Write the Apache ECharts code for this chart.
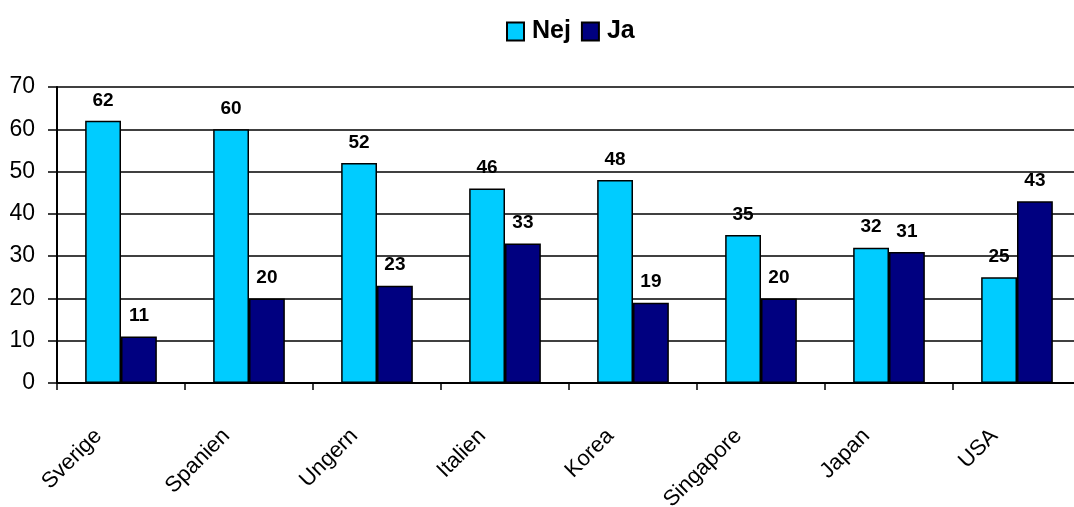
<!DOCTYPE html>
<html>
<head>
<meta charset="utf-8">
<script src="https://cdn.jsdelivr.net/npm/echarts@6/dist/echarts.min.js"></script>
<style>
  html, body { margin: 0; padding: 0; background: #fff; }
  #chart { width: 1074px; height: 507px; }
</style>
</head>
<body>
<div id="chart"></div>
<script>
// Survey answers per country
const countries = ['Sverige', 'Spanien', 'Ungern', 'Italien', 'Korea', 'Singapore', 'Japan', 'USA'];
const nejValues = [62, 60, 52, 46, 48, 35, 32, 25];
const jaValues = [11, 20, 23, 33, 19, 20, 31, 43];
const yTicks = { min: 0, max: 70, interval: 10 };

const font = '"Liberation Sans", Arial, sans-serif';
const barLabel = {
  show: true,
  position: 'top',
  distance: 11,
  color: '#000',
  fontFamily: font,
  fontWeight: 'bold',
  fontSize: 19
};

const chart = echarts.init(document.getElementById('chart'));
chart.setOption({
  animation: false,
  backgroundColor: '#fff',
  legend: {
    top: 14,
    left: 501,
    itemWidth: 17,
    itemHeight: 18,
    itemGap: 10,
    textStyle: { fontFamily: font, fontWeight: 'bold', fontSize: 25, color: '#000', padding: [2, 0, 0, 3] },
    data: [
      { name: 'Nej', icon: 'rect', itemStyle: { borderColor: '#000', borderWidth: 2 } },
      { name: 'Ja', icon: 'rect', itemStyle: { borderColor: '#000', borderWidth: 2 } }
    ]
  },
  grid: { left: 57, right: -7, top: 87, bottom: 124, containLabel: false, outerBoundsMode: 'none' },
  xAxis: {
    type: 'category',
    data: countries,
    axisLine: { lineStyle: { color: '#000', width: 2 } },
    axisTick: { show: true, length: 7, lineStyle: { color: '#000', width: 1.5 } },
    axisLabel: {
      rotate: 45,
      margin: 27,
      padding: [0, 32, 0, 0],
      color: '#000',
      fontFamily: font,
      fontSize: 22
    }
  },
  yAxis: {
    type: 'value',
    min: yTicks.min,
    max: yTicks.max,
    interval: yTicks.interval,
    axisLine: { show: true, lineStyle: { color: '#000', width: 2 } },
    axisTick: { show: true, length: 9, lineStyle: { color: '#000', width: 1.5 } },
    splitLine: { show: true, lineStyle: { color: '#000', width: 1.5 } },
    axisLabel: {
      margin: 22,
      padding: [8, 0, 0, 0],
      color: '#000',
      fontFamily: font,
      fontSize: 23
    }
  },
  series: [
    {
      name: 'Nej',
      type: 'bar',
      data: nejValues,
      barGap: '0%',
      barCategoryGap: '44%',
      itemStyle: { color: '#00CCFF', borderColor: '#000', borderWidth: 1.5 },
      label: barLabel
    },
    {
      name: 'Ja',
      type: 'bar',
      data: jaValues,
      itemStyle: { color: '#000080', borderColor: '#000', borderWidth: 1.5 },
      label: barLabel
    }
  ]
});
</script>
</body>
</html>
